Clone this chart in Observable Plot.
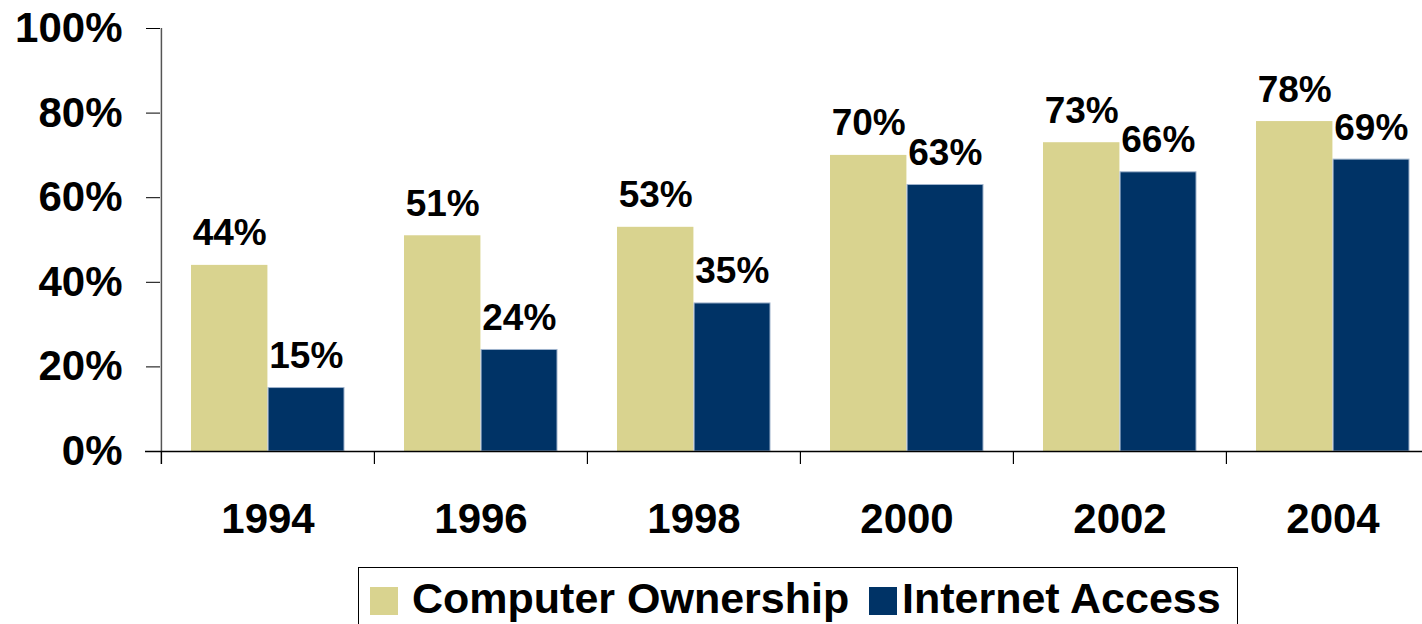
<!DOCTYPE html>
<html>
<head>
<meta charset="utf-8">
<script src="https://cdn.jsdelivr.net/npm/d3@7"></script>
<script src="https://cdn.jsdelivr.net/npm/@observablehq/plot@0.6"></script>
<style>
  html, body { margin: 0; padding: 0; background: white; overflow: hidden; }
  #wrap { position: relative; width: 1422px; height: 624px; overflow: hidden; font-family: "Liberation Sans", Arial, sans-serif; }
  #legend { position: absolute; left: 358px; top: 567px; width: 880px; height: 80px; border: 1.5px solid #000; box-sizing: border-box; font-weight: bold; font-size: 43px; color: #000; }
  .sw { position: absolute; top: 19px; width: 28px; height: 28px; }
  .lt { position: absolute; top: 6px; line-height: 48px; white-space: nowrap; }
</style>
</head>
<body>
<div id="wrap"><div id="chart"></div><div id="legend"></div></div>
<script>
const years = ["1994", "1996", "1998", "2000", "2002", "2004"];
const seriesNames = ["Computer Ownership", "Internet Access"];
const computerOwnership = [44, 51, 53, 70, 73, 78];
const internetAccess = [15, 24, 35, 63, 66, 69];
const yTicks = [0, 20, 40, 60, 80, 100];
const colors = ["#D9D38F", "#003366"];

const W = 1439, ML = 160, MR = 0, MT = 28, H = 560, MB = 109;
const band = (W - ML - MR) / years.length;
const pad = 30;
const barW = (band - 2 * pad) / 2;

const comp = years.map((y, i) => ({year: y, value: computerOwnership[i]}));
const inet = years.map((y, i) => ({year: y, value: internetAccess[i]}));

const font = "Liberation Sans, Arial, sans-serif";

const plot = Plot.plot({
  width: W, height: H,
  marginLeft: ML, marginRight: MR, marginTop: MT, marginBottom: MB,
  style: {maxWidth: "none", overflow: "visible", fontFamily: font, background: "white"},
  x: {type: "band", domain: years, padding: 0, axis: null, label: null},
  y: {domain: [0, 100], axis: null, label: null},
  marks: [
    Plot.barY(comp, {x: "year", y: "value", fill: colors[0], insetLeft: pad, insetRight: pad + barW}),
    Plot.barY(inet, {x: "year", y: "value", fill: colors[1], stroke: "#9fb3cc", strokeWidth: 1, insetLeft: pad + barW + 0.5, insetRight: pad}),
    Plot.text(comp, {x: "year", y: "value", text: d => d.value + "%", dx: -barW / 2, dy: -20, lineAnchor: "bottom", fontSize: 37, fontWeight: "bold", fill: "#000"}),
    Plot.text(inet, {x: "year", y: "value", text: d => d.value + "%", dx: barW / 2, dy: -20, lineAnchor: "bottom", fontSize: 37, fontWeight: "bold", fill: "#000"}),
    // y axis
    Plot.axisY({ticks: yTicks, tickSize: 14, tickPadding: 24, tickFormat: d => d + "%", fontSize: 42, fontWeight: "bold", stroke: "#000", fill: "#000", label: null}),
    Plot.ruleX([years[0]], {dx: -band / 2, insetBottom: -13, stroke: "#555", strokeWidth: 1.5}),
    // x axis
    Plot.ruleY([0], {insetLeft: -15, stroke: "#000", strokeWidth: 1.5}),
    Plot.ruleX(years, {y1: 0, y2: 0, dx: -band / 2, insetBottom: -13, stroke: "#000", strokeWidth: 1.2}),
    Plot.axisX({tickSize: 0, tickPadding: 52, fontSize: 42, fontWeight: "bold", fill: "#000", label: null})
  ]
});
document.getElementById("chart").appendChild(plot);

const legend = document.getElementById("legend");
const swLeft = [11, 510];
const txLeft = [53, 543];
seriesNames.forEach((name, i) => {
  const sw = document.createElement("div");
  sw.className = "sw"; sw.style.left = swLeft[i] + "px"; sw.style.background = colors[i];
  const t = document.createElement("div");
  t.className = "lt"; t.style.left = txLeft[i] + "px"; t.textContent = name;
  legend.appendChild(sw); legend.appendChild(t);
});
</script>
</body>
</html>
